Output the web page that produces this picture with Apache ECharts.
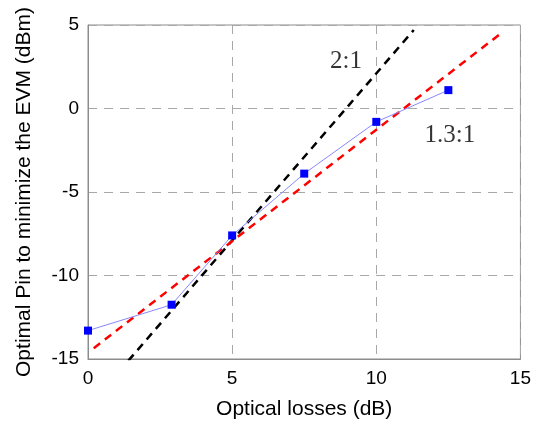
<!DOCTYPE html>
<html>
<head>
<meta charset="utf-8">
<script src="https://cdn.jsdelivr.net/npm/echarts@6/dist/echarts.min.js"></script>
<style>
html,body{margin:0;padding:0;background:#fff;}
#chart{width:534px;height:426px;}
</style>
</head>
<body>
<div id="chart"></div>
<script>
// Measured data (blue squares)
var lossX = [0, 2.9, 5, 7.5, 10, 12.5];
var pinY = [-13.3, -11.75, -7.6, -3.9, -0.8, 1.1];
// 2:1 reference line endpoints
var ratio2X = [1.4, 11.3];
var ratio2Y = [-15.1, 4.7];
// 1.3:1 reference line endpoints
var ratio13X = [0.2, 14.4];
var ratio13Y = [-14.35, 4.6];
// annotation labels
var noteText = ['2:1', '1.3:1'];
var noteX = [8.95, 12.55];
var noteY = [2.8, -1.6];

function pairs(xs, ys){ return xs.map(function(x,i){ return [x, ys[i]]; }); }

var chart = echarts.init(document.getElementById('chart'), null, {renderer:'canvas'});
var axisColor = '#8c8c8c';
var gridColor = '#a8a8a8';
chart.setOption({
  animation: false,
  backgroundColor: '#fff',
  grid: {left: 88, right: 12, top: 25, bottom: 67, show: true, borderColor: axisColor, borderWidth: 1, backgroundColor: 'transparent'},
  xAxis: {
    type: 'value', min: 0, max: 15, interval: 5,
    name: 'Optical losses (dB)', nameLocation: 'middle', nameGap: 40,
    nameTextStyle: {fontFamily: 'Liberation Sans', fontSize: 21, color: '#000'},
    axisLine: {show: true, onZero: false, lineStyle: {color: axisColor}},
    axisTick: {show: false},
    axisLabel: {fontFamily: 'Liberation Sans', fontSize: 19, color: '#000', margin: 10},
    splitLine: {show: true, lineStyle: {color: gridColor, type: [9, 7], width: 1}}
  },
  yAxis: {
    type: 'value', min: -15, max: 5, interval: 5,
    name: 'Optimal Pin to minimize the EVM (dBm)', nameLocation: 'middle', nameGap: 53,
    nameTextStyle: {fontFamily: 'Liberation Sans', fontSize: 21, color: '#000'},
    axisLine: {show: true, onZero: false, lineStyle: {color: axisColor}},
    axisTick: {show: false},
    axisLabel: {fontFamily: 'Liberation Sans', fontSize: 19, color: '#000', margin: 9},
    splitLine: {show: true, lineStyle: {color: gridColor, type: [9, 7], width: 1}}
  },
  series: [
    {
      type: 'line', data: pairs(ratio2X, ratio2Y), symbol: 'none',
      lineStyle: {color: '#000', width: 2.5, type: [8, 6]}, z: 3
    },
    {
      type: 'line', data: pairs(ratio13X, ratio13Y), symbol: 'none',
      lineStyle: {color: '#ff0000', width: 2.5, type: [8, 6]}, z: 4
    },
    {
      type: 'line', data: pairs(lossX, pinY), symbol: 'rect', symbolSize: 8,
      itemStyle: {color: '#0000ff'},
      lineStyle: {color: '#8888ff', width: 1}, z: 5
    },
    {
      type: 'scatter', symbolSize: 0,
      data: noteText.map(function(t,i){ return {value: [noteX[i], noteY[i]], name: t}; }),
      label: {show: true, position: 'inside', formatter: '{b}', fontFamily: 'Liberation Serif', fontSize: 25, color: '#000'},
      z: 6
    }
  ]
});
</script>
</body>
</html>
